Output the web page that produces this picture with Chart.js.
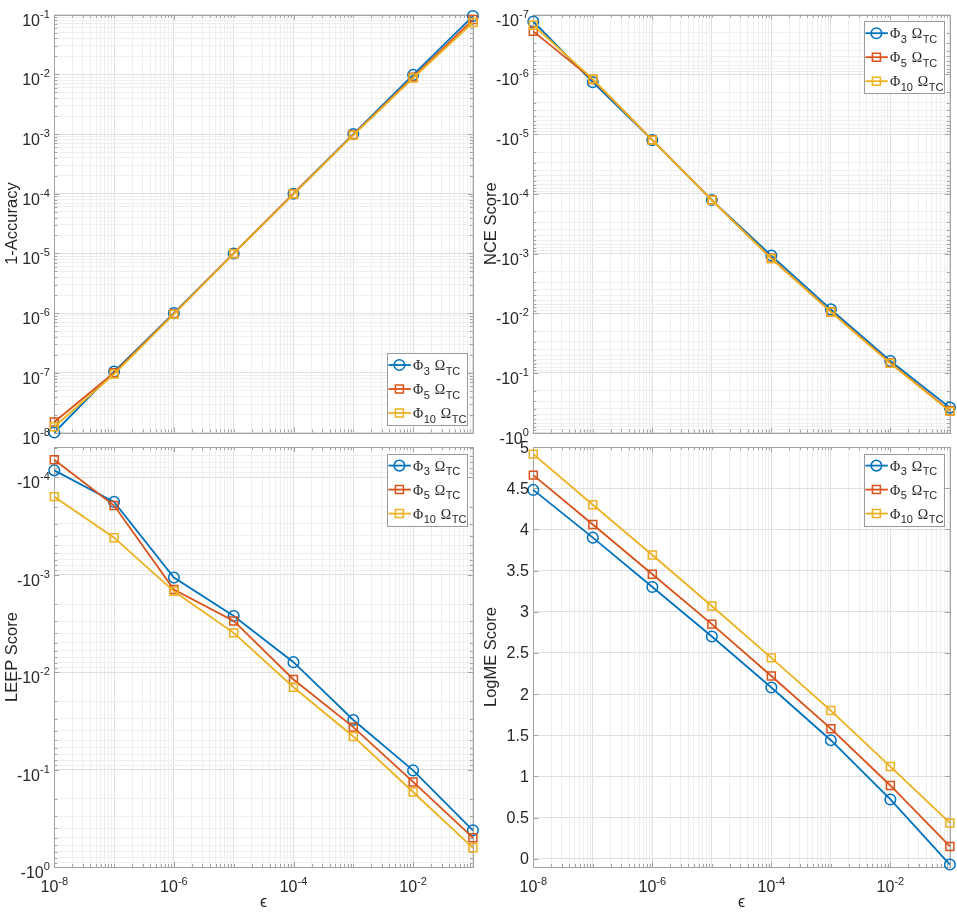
<!DOCTYPE html>
<html lang="en">
<head>
    <meta charset="UTF-8">
    <title>Scores vs epsilon</title>
    <script src="https://cdn.jsdelivr.net/npm/chart.js"></script>
    <style>
        body { margin: 0; background: #fff; }
        canvas { position: absolute; }
    </style>
</head>
<body>
<canvas id="accChart" width="480" height="447" style="left:0px;top:0px"></canvas>
<canvas id="nceChart" width="478" height="447" style="left:479px;top:0px"></canvas>
<canvas id="leepChart" width="480" height="472" style="left:0px;top:440px"></canvas>
<canvas id="logmeChart" width="478" height="472" style="left:479px;top:440px"></canvas>
<script>
    // x values (epsilon)
    const eps = [1e-8, 1e-7, 1e-6, 1e-5, 1e-4, 1e-3, 1e-2, 1e-1];
    const seriesSubs = ['3', '5', '10'];

    // 1-Accuracy
    const acc3  = [1.0e-8, 1.05e-7, 1.0e-6, 1.0e-5, 1.0e-4, 1.0e-3, 9.8e-3, 9.5e-2];
    const acc5  = [1.5e-8, 1.0e-7, 9.8e-7, 1.0e-5, 1.0e-4, 9.8e-4, 9.0e-3, 8.3e-2];
    const acc10 = [1.25e-8, 9.5e-8, 9.6e-7, 9.9e-6, 9.9e-5, 9.6e-4, 8.7e-3, 7.4e-2];

    // NCE score (negative)
    const nce3  = [-1.3e-7, -1.35e-6, -1.26e-5, -1.27e-4, -1.08e-3, -8.6e-3, -6.3e-2, -0.38];
    const nce5  = [-1.9e-7, -1.22e-6, -1.25e-5, -1.27e-4, -1.2e-3, -9.4e-3, -6.8e-2, -0.43];
    const nce10 = [-1.5e-7, -1.2e-6, -1.26e-5, -1.28e-4, -1.22e-3, -9.5e-3, -6.9e-2, -0.44];

    // LEEP score (negative)
    const leep3  = [-8.5e-5, -1.79e-4, -1.07e-3, -2.65e-3, -7.9e-3, -3.1e-2, -0.102, -0.42];
    const leep5  = [-6.6e-5, -1.95e-4, -1.42e-3, -2.98e-3, -1.19e-2, -3.67e-2, -0.134, -0.50];
    const leep10 = [-1.58e-4, -4.17e-4, -1.48e-3, -3.95e-3, -1.43e-2, -4.57e-2, -0.17, -0.635];

    // LogME score
    const logme3  = [4.48, 3.90, 3.30, 2.70, 2.08, 1.44, 0.72, -0.07];
    const logme5  = [4.66, 4.06, 3.455, 2.85, 2.22, 1.58, 0.89, 0.15];
    const logme10 = [4.915, 4.30, 3.69, 3.07, 2.44, 1.80, 1.12, 0.435];

    // tick labels
    const xTickExps = [-8, -6, -4, -2];
    const accTickExps = [-8, -7, -6, -5, -4, -3, -2, -1];
    const nceTickExps = [-7, -6, -5, -4, -3, -2, -1, 0];
    const leepTickExps = [-4, -3, -2, -1, 0];
    const logmeTicks = [0, 0.5, 1, 1.5, 2, 2.5, 3, 3.5, 4, 4.5, 5];
    const logmeTickLabels = ['0', '0.5', '1', '1.5', '2', '2.5', '3', '3.5', '4', '4.5', '5'];

    const colors = ['#0072BD', '#D95319', '#EDB120'];
    const FONT = '"Liberation Sans", Arial, sans-serif';
    const SERIF = '"Liberation Serif", "DejaVu Serif", serif';
    const TXT = '#262626';

    function isDecade(v) {
        const l = Math.log10(Math.abs(v));
        return Math.abs(l - Math.round(l)) < 1e-6;
    }

    // 1..9 x 10^e ticks between lo and hi
    function logTicks(lo, hi) {
        const out = [];
        for (let e = Math.floor(Math.log10(lo)); e <= Math.ceil(Math.log10(hi)); e++) {
            for (let m = 1; m <= 9; m++) {
                const v = m * Math.pow(10, e);
                if (v >= lo * 0.9999 && v <= hi * 1.0001) out.push({ value: v });
            }
        }
        return out;
    }

    function makeSets(a, b, c, mapY) {
        return [a, b, c].map((vals, i) => ({
            label: 'Φ' + seriesSubs[i] + ' ΩTC',
            data: eps.map((x, k) => ({ x: x, y: mapY(vals[k]) })),
            borderColor: colors[i],
            borderWidth: 1.8,
            pointStyle: i === 0 ? 'circle' : 'rect',
            pointRadius: i === 0 ? 5.3 : 5.6,
            pointBorderWidth: 1.5,
            pointBorderColor: colors[i],
            pointBackgroundColor: 'rgba(0,0,0,0)',
            order: 2 - i,
            clip: false,
            tension: 0
        }));
    }

    function drawPow(ctx, prefix, exp, x, baseY, supY, align) {
        ctx.font = '16px ' + FONT;
        const base = prefix + '10';
        const wb = ctx.measureText(base).width;
        ctx.font = '11px ' + FONT;
        const sup = String(exp);
        const ws = ctx.measureText(sup).width;
        const total = wb + ws;
        const x0 = align === 'right' ? x - total : x - total / 2;
        ctx.textAlign = 'left';
        ctx.textBaseline = 'alphabetic';
        ctx.fillStyle = TXT;
        ctx.font = '16px ' + FONT;
        ctx.fillText(base, x0, baseY);
        ctx.font = '11px ' + FONT;
        ctx.fillText(sup, x0 + wb, supY);
    }

    function drawLegend(ctx, left, top) {
        const w = 80, h = 72;
        ctx.save();
        ctx.fillStyle = '#ffffff';
        ctx.fillRect(left, top, w, h);
        ctx.strokeStyle = '#9a9a9a';
        ctx.lineWidth = 1;
        ctx.strokeRect(Math.round(left) + 0.5, Math.round(top) + 0.5, w, h);
        for (let i = 0; i < 3; i++) {
            const y = top + 12 + i * 24;
            ctx.strokeStyle = colors[i];
            ctx.lineWidth = 1.8;
            ctx.beginPath();
            ctx.moveTo(left + 1.5, y);
            ctx.lineTo(left + 24, y);
            ctx.stroke();
            ctx.lineWidth = 1.5;
            ctx.beginPath();
            if (i === 0) {
                ctx.arc(left + 12.5, y, 5.3, 0, Math.PI * 2);
            } else {
                ctx.rect(left + 12.5 - 4, y - 4, 8, 8);
            }
            ctx.stroke();
            // text: Phi_n Omega_TC
            let x = left + 26;
            ctx.fillStyle = TXT;
            ctx.textAlign = 'left';
            ctx.textBaseline = 'alphabetic';
            ctx.font = '14px ' + SERIF;
            ctx.fillText('Φ', x, y + 5);
            x += ctx.measureText('Φ').width + 0.5;
            ctx.font = '11px ' + FONT;
            ctx.fillText(seriesSubs[i], x, y + 9.5);
            x += ctx.measureText(seriesSubs[i]).width + 5;
            ctx.font = '14px ' + SERIF;
            ctx.fillText('Ω', x, y + 5);
            x += ctx.measureText('Ω').width + 0.5;
            ctx.font = '11px ' + FONT;
            ctx.fillText('TC', x, y + 9.5);
        }
        ctx.restore();
    }

    const matlabAxes = {
        id: 'matlabAxes',
        beforeDatasetsDraw(chart, args, opts) {
            const ctx = chart.ctx;
            const a = chart.chartArea;
            const xs = chart.scales.x, ys = chart.scales.y;
            ctx.save();
            ctx.strokeStyle = '#a3a3a3';
            ctx.lineWidth = 1;
            ctx.beginPath();
            xs.ticks.forEach(t => {
                const px = Math.round(xs.getPixelForValue(t.value)) + 0.5;
                const major = xTickExps.some(e => Math.abs(Math.log10(t.value) - e) < 1e-6);
                const len = major ? 5 : 3;
                ctx.moveTo(px, a.bottom); ctx.lineTo(px, a.bottom - len);
                ctx.moveTo(px, a.top); ctx.lineTo(px, a.top + len);
            });
            ys.ticks.forEach(t => {
                const py = Math.round(ys.getPixelForValue(t.value)) + 0.5;
                const major = opts.yMajor(t.value);
                const len = major ? 5 : 3;
                ctx.moveTo(a.left, py); ctx.lineTo(a.left + len, py);
                ctx.moveTo(a.right, py); ctx.lineTo(a.right - len, py);
            });
            ctx.stroke();
            ctx.strokeRect(Math.round(a.left) + 0.5, Math.round(a.top) + 0.5,
                Math.round(a.right) - Math.round(a.left), Math.round(a.bottom) - Math.round(a.top));
            ctx.restore();
        },
        afterDraw(chart, args, opts) {
            const ctx = chart.ctx;
            const a = chart.chartArea;
            const xs = chart.scales.x, ys = chart.scales.y;
            ctx.save();
            if (opts.xLabels) {
                xTickExps.forEach(e => {
                    const px = xs.getPixelForValue(Math.pow(10, e));
                    drawPow(ctx, '', e, px, a.bottom + 25, a.bottom + 18, 'center');
                });
            }
            if (opts.yExps) {
                opts.yExps.forEach(e => {
                    const py = ys.getPixelForValue(Math.pow(10, e));
                    drawPow(ctx, opts.yPrefix, e, a.left - 4.5, py + 11, py + 3, 'right');
                });
            } else {
                ctx.font = '16px ' + FONT;
                ctx.fillStyle = TXT;
                ctx.textAlign = 'right';
                ctx.textBaseline = 'middle';
                logmeTicks.forEach((v, i) => {
                    ctx.fillText(logmeTickLabels[i], a.left - 4.5, ys.getPixelForValue(v) + 1);
                });
            }
            const lx = a.right - 6 - 80;
            const ly = opts.legendBottom ? a.bottom - 7.5 - 72 : a.top + 6.5;
            drawLegend(ctx, lx, ly);
            ctx.restore();
        }
    };

    function gridColor(c) {
        if (!c.tick) return '#ececec';
        return isDecade(c.tick.value) ? '#e0e0e0' : '#efefef';
    }

    function makeChart(id, p) {
        const canvas = document.getElementById(id);
        const W = canvas.width, H = canvas.height;
        return new Chart(canvas.getContext('2d'), {
            type: 'line',
            data: { datasets: p.datasets },
            plugins: [matlabAxes],
            options: {
                responsive: false,
                maintainAspectRatio: false,
                animation: false,
                events: [],
                layout: { padding: { left: 0, right: W - p.plotRight, top: p.plotTop, bottom: 0 } },
                plugins: {
                    legend: { display: false },
                    tooltip: { enabled: false },
                    matlabAxes: p.axes
                },
                scales: {
                    x: {
                        type: 'logarithmic',
                        min: 1e-8,
                        max: 1e-1,
                        afterBuildTicks: s => { s.ticks = logTicks(1e-8, 1e-1); },
                        afterFit: s => { s.height = H - p.plotBottom; },
                        ticks: { display: false },
                        grid: { color: gridColor, drawTicks: false, lineWidth: 1 },
                        border: { display: false },
                        title: {
                            display: p.xTitle,
                            text: 'ϵ',
                            color: TXT,
                            font: { family: FONT, size: 16 },
                            padding: { top: 0, bottom: 0 }
                        }
                    },
                    y: p.y
                }
            }
        });
    }

    function yTitle(text) {
        return {
            display: true,
            text: text,
            color: TXT,
            font: { family: FONT, size: 16.5 },
            padding: { top: 3, bottom: 0 }
        };
    }

    function logY(lo, hi, reverse, title, left) {
        return {
            type: 'logarithmic',
            min: lo,
            max: hi,
            reverse: reverse,
            afterBuildTicks: s => { s.ticks = logTicks(lo, hi); },
            afterFit: s => { s.width = left; },
            ticks: { display: false },
            grid: { color: gridColor, drawTicks: false, lineWidth: 1 },
            border: { display: false },
            title: yTitle(title)
        };
    }

    const neg = v => -v;
    const same = v => v;

    makeChart('accChart', {
        datasets: makeSets(acc3, acc5, acc10, same),
        plotTop: 14.7, plotBottom: 432.5, plotRight: 473.3, xTitle: false,
        y: logY(1e-8, 1e-1, false, '1-Accuracy', 54.3),
        axes: { xLabels: false, yExps: accTickExps, yPrefix: '', yMajor: isDecade, legendBottom: true }
    });

    makeChart('nceChart', {
        datasets: makeSets(nce3, nce5, nce10, neg),
        plotTop: 14.7, plotBottom: 432.7, plotRight: 473.7, xTitle: false,
        y: logY(1e-7, 1, true, 'NCE Score', 54.3),
        axes: { xLabels: false, yExps: nceTickExps, yPrefix: '-', yMajor: isDecade, legendBottom: false }
    });

    makeChart('leepChart', {
        datasets: makeSets(leep3, leep5, leep10, neg),
        plotTop: 7, plotBottom: 427, plotRight: 473.3, xTitle: true,
        y: logY(4.9e-5, 1, true, 'LEEP Score', 54.3),
        axes: { xLabels: true, yExps: leepTickExps, yPrefix: '-', yMajor: isDecade, legendBottom: false }
    });

    makeChart('logmeChart', {
        datasets: makeSets(logme3, logme5, logme10, same),
        plotTop: 7, plotBottom: 427, plotRight: 473.7, xTitle: true,
        y: {
            type: 'linear',
            min: -0.1,
            max: 5,
            afterBuildTicks: s => { s.ticks = logmeTicks.map(v => ({ value: v })); },
            afterFit: s => { s.width = 54.3; },
            ticks: { display: false },
            grid: { color: '#e0e0e0', drawTicks: false, lineWidth: 1 },
            border: { display: false },
            title: yTitle('LogME Score')
        },
        axes: { xLabels: true, yExps: null, yPrefix: '', yMajor: () => true, legendBottom: false }
    });
</script>
</body>
</html>
